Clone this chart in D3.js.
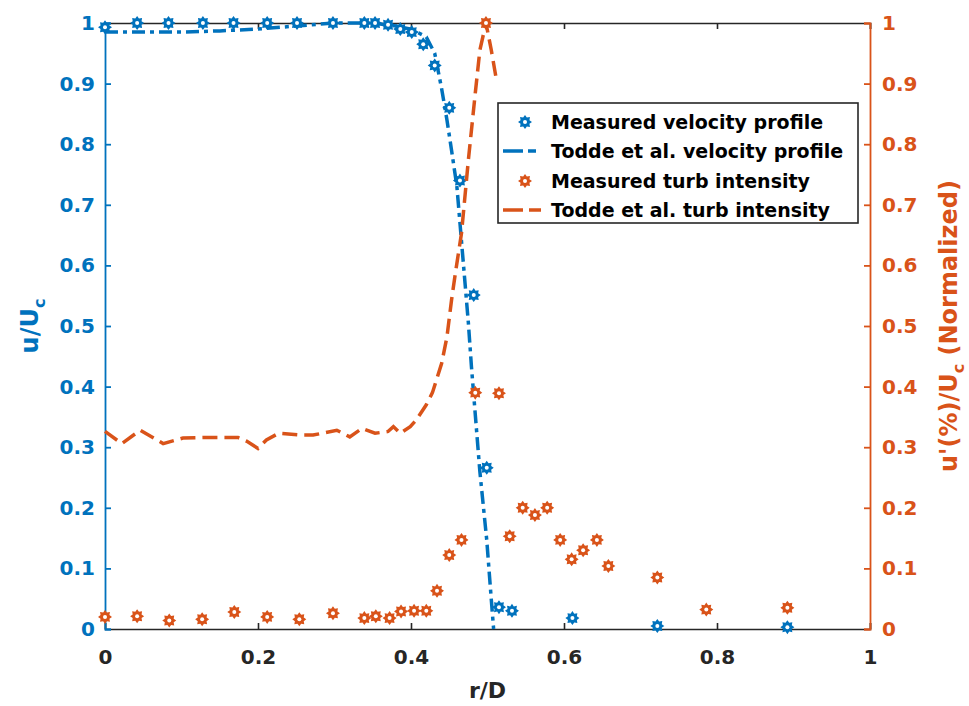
<!DOCTYPE html>
<html><head><meta charset="utf-8">
<script src="https://cdn.jsdelivr.net/npm/d3@7/dist/d3.min.js"></script>
<style>body{margin:0;background:#fff}svg{display:block}text{font-family:"DejaVu Sans",sans-serif;font-weight:bold}</style>
</head><body><svg id="c" width="969" height="706"></svg>
<script>
// ---- data ----
const measVelX = [0, 0.042, 0.083, 0.128, 0.168, 0.212, 0.251, 0.298, 0.339, 0.353, 0.37, 0.386, 0.401, 0.416, 0.431, 0.45, 0.464, 0.482, 0.499, 0.515, 0.532, 0.611, 0.722, 0.892];
const measVelY = [0.993, 1.0, 1.0, 1.0, 1.0, 1.0, 1.0, 1.0, 1.0, 1.0, 0.997, 0.99, 0.985, 0.965, 0.93, 0.86, 0.74, 0.551, 0.266, 0.036, 0.03, 0.018, 0.005, 0.003];
const toddeVelX = [0, 0.05, 0.1, 0.15, 0.2, 0.25, 0.3, 0.35, 0.38, 0.40, 0.42, 0.431, 0.44, 0.447, 0.453, 0.46, 0.466, 0.47, 0.475, 0.479, 0.486, 0.49, 0.499, 0.505, 0.508];
const toddeVelY = [0.985, 0.985, 0.985, 0.987, 0.99, 0.995, 1.0, 1.0, 0.995, 0.99, 0.977, 0.95, 0.892, 0.84, 0.79, 0.73, 0.64, 0.58, 0.505, 0.433, 0.323, 0.26, 0.147, 0.048, 0.0];
const measTurbX = [0, 0.042, 0.084, 0.127, 0.169, 0.212, 0.254, 0.298, 0.339, 0.354, 0.372, 0.387, 0.404, 0.42, 0.434, 0.45, 0.466, 0.484, 0.498, 0.515, 0.529, 0.546, 0.562, 0.578, 0.595, 0.61, 0.625, 0.643, 0.658, 0.722, 0.786, 0.892];
const measTurbY = [0.02, 0.021, 0.014, 0.016, 0.028, 0.02, 0.016, 0.026, 0.018, 0.021, 0.018, 0.029, 0.03, 0.03, 0.063, 0.122, 0.147, 0.39, 1.0, 0.389, 0.153, 0.2, 0.188, 0.2, 0.147, 0.115, 0.13, 0.147, 0.104, 0.085, 0.032, 0.035];
const toddeTurbX = [0, 0.022, 0.046, 0.076, 0.102, 0.133, 0.174, 0.185, 0.2, 0.211, 0.227, 0.255, 0.272, 0.303, 0.32, 0.336, 0.353, 0.37, 0.377, 0.386, 0.399, 0.407, 0.42, 0.428, 0.44, 0.447, 0.453, 0.458, 0.466, 0.475, 0.484, 0.49, 0.498, 0.505, 0.511];
const toddeTurbY = [0.326, 0.306, 0.328, 0.306, 0.315, 0.316, 0.316, 0.31, 0.298, 0.312, 0.323, 0.32, 0.32, 0.328, 0.317, 0.331, 0.323, 0.326, 0.334, 0.323, 0.334, 0.345, 0.37, 0.39, 0.438, 0.482, 0.543, 0.587, 0.653, 0.774, 0.884, 0.955, 1.0, 0.955, 0.911];
const xTicks = [0, 0.2, 0.4, 0.6, 0.8, 1];
const yTicks = [0, 0.1, 0.2, 0.3, 0.4, 0.5, 0.6, 0.7, 0.8, 0.9, 1];
const legendLabels = ["Measured velocity profile", "Todde et al. velocity profile", "Measured turb intensity", "Todde et al. turb intensity"];

const BLUE = "#0072BD", ORANGE = "#D95319", DARK = "#262626";
const FONT = "DejaVu Sans, sans-serif";
const svg = d3.select("#c");
const x = d3.scaleLinear().domain([0, 1]).range([105, 870]);
const yL = d3.scaleLinear().domain([0, 1]).range([629, 23]);
const yR = d3.scaleLinear().domain([0, 1]).range([629, 23]);
const fmt = d => d === 0 ? "0" : d === 1 ? "1" : d3.format(".1f")(d);

// axes
const gB = svg.append("g").attr("transform", "translate(0,629)")
  .call(d3.axisBottom(x).tickValues(xTicks).tickFormat(fmt).tickSize(-6).tickPadding(21));
const gT = svg.append("g").attr("transform", "translate(0,23)")
  .call(d3.axisTop(x).tickValues(xTicks).tickFormat("").tickSize(-6));
[gB, gT].forEach(g => { g.select(".domain").attr("stroke", DARK).attr("stroke-width", 1.6);
  g.selectAll(".tick line").attr("stroke", DARK).attr("stroke-width", 1.6);
  g.selectAll("text").attr("fill", DARK).style("font-size", "20px").style("font-family", FONT).style("font-weight", "bold"); });

const gL = svg.append("g").attr("transform", "translate(105,0)")
  .call(d3.axisLeft(yL).tickValues(yTicks).tickFormat(fmt).tickSize(-6).tickPadding(10));
const gR = svg.append("g").attr("transform", "translate(870,0)")
  .call(d3.axisRight(yR).tickValues(yTicks).tickFormat(fmt).tickSize(-6).tickPadding(12));
[[gL, BLUE], [gR, ORANGE]].forEach(([g, c]) => { g.select(".domain").attr("stroke", c).attr("stroke-width", 1.8);
  g.selectAll(".tick line").attr("stroke", c).attr("stroke-width", 1.8);
  g.selectAll("text").attr("fill", c).style("font-size", "20px").style("font-family", FONT).style("font-weight", "bold"); });

// labels
svg.append("text").attr("x", x(0.5)).attr("y", 698).attr("text-anchor", "middle").attr("fill", DARK).style("font-size", "22px").text("r/D");
const tl = svg.append("text").attr("transform", "translate(38,326) rotate(-90)").attr("text-anchor", "middle").attr("fill", BLUE).style("font-size", "24px");
tl.append("tspan").text("u/U");
tl.append("tspan").attr("dy", 7).style("font-size", "16px").text("c");
const tr = svg.append("text").attr("transform", "translate(957,326) rotate(-90)").attr("text-anchor", "middle").attr("fill", ORANGE).style("font-size", "24px");
tr.append("tspan").text("u'(%)/U");
tr.append("tspan").attr("dy", 7).style("font-size", "16px").text("c");
tr.append("tspan").attr("dy", -7).text(" (Normalized)");

// marker
function starPath(ro, ri, n) {
  const pts = [];
  for (let i = 0; i < 2 * n; i++) {
    const a = Math.PI * i / n - Math.PI / 2;
    const r = i % 2 === 0 ? ro : ri;
    pts.push([r * Math.cos(a), r * Math.sin(a)]);
  }
  return "M" + pts.map(p => p[0].toFixed(2) + "," + p[1].toFixed(2)).join("L") + "Z";
}
const SP = starPath(7, 4.8, 8);
function drawMarkers(g, xs, ys, ysc, c) {
  const m = g.selectAll(null).data(xs.map((v, i) => [v, ys[i]])).enter().append("g")
    .attr("transform", d => `translate(${x(d[0])},${ysc(d[1])})`);
  m.append("path").attr("d", SP).attr("fill", c);
  m.append("circle").attr("r", 2).attr("fill", "#fff");
}
const line = ysc => d3.line().x(d => x(d[0])).y(d => ysc(d[1]));

// velocity (left)
svg.append("path").datum(toddeVelX.map((v, i) => [v, toddeVelY[i]])).attr("d", line(yL))
  .attr("fill", "none").attr("stroke", BLUE).attr("stroke-width", 3.5).attr("stroke-dasharray", "13,5,4,5");
drawMarkers(svg.append("g"), measVelX, measVelY, yL, BLUE);
// turb (right)
svg.append("path").datum(toddeTurbX.map((v, i) => [v, toddeTurbY[i]])).attr("d", line(yR))
  .attr("fill", "none").attr("stroke", ORANGE).attr("stroke-width", 3.5).attr("stroke-dasharray", "15,7");
drawMarkers(svg.append("g"), measTurbX, measTurbY, yR, ORANGE);

// legend
const lg = svg.append("g");
lg.append("rect").attr("x", 498).attr("y", 103).attr("width", 360).attr("height", 120)
  .attr("fill", "#fff").attr("stroke", DARK).attr("stroke-width", 1.6);
const rowsY = [122, 151, 181, 210];
const kinds = [["m", BLUE], ["l", BLUE, "20,5,8,5"], ["m", ORANGE], ["l", ORANGE, "20,6,12,6"]];
legendLabels.forEach((t, i) => {
  const k = kinds[i];
  if (k[0] === "m") {
    const g = lg.append("g").attr("transform", `translate(525,${rowsY[i]})`);
    g.append("path").attr("d", SP).attr("fill", k[1]);
    g.append("circle").attr("r", 2).attr("fill", "#fff");
  } else {
    lg.append("line").attr("x1", 503).attr("x2", 541).attr("y1", rowsY[i]).attr("y2", rowsY[i])
      .attr("stroke", k[1]).attr("stroke-width", 3.5).attr("stroke-dasharray", k[2]);
  }
  lg.append("text").attr("x", 551).attr("y", rowsY[i] + 7).attr("fill", "#000").style("font-size", "19px").text(t);
});
</script></body></html>
